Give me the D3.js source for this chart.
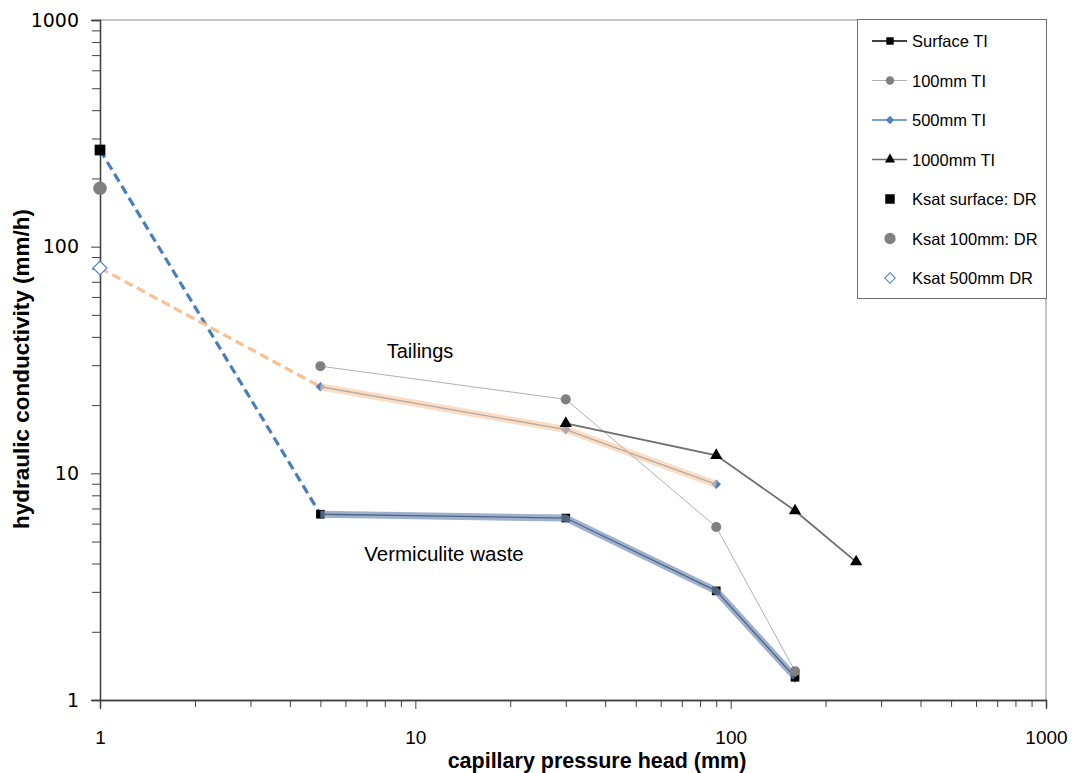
<!DOCTYPE html>
<html>
<head>
<meta charset="utf-8">
<script src="https://cdn.jsdelivr.net/npm/d3@7"></script>
<style>
  html, body { margin: 0; padding: 0; background: #fff; }
  svg { display: block; font-family: "Liberation Sans", Arial, sans-serif; }
</style>
</head>
<body>
<svg id="chart" width="1076" height="773"></svg>
<script>
// Capillary pressure head (mm) at which conductivity was measured
const headTI = [5, 30, 90, 160];
const head1000 = [30, 90, 160, 250];

// Tension infiltrometer results, hydraulic conductivity (mm/h)
const surfaceTI = [6.6, 6.35, 3.03, 1.26];
const ti100mm = [29.7, 21.2, 5.8, 1.34];
const ti500mm = [24.1, 15.6, 8.94];
const ti1000mm = [16.6, 12.0, 6.84, 4.07];
const ti500mmVermiculite = [1.25];   // single 500 mm reading on vermiculite at 160 mm
const head500Vermiculite = [160];

// Saturated conductivity from double ring, plotted at 1 mm head
const ksatHead = 1;
const ksatSurfaceDR = 267;
const ksat100mmDR = 181;
const ksat500mmDR = 80.5;

// Axis ticks
const majorTicks = [1, 10, 100, 1000];
const minorTicks = d3.range(0, 3).flatMap(e => d3.range(2, 10).map(m => m * Math.pow(10, e)));

const legendLabels = ["Surface TI", "100mm TI", "500mm TI", "1000mm TI",
                      "Ksat surface: DR", "Ksat 100mm: DR", "Ksat 500mm DR"];
const materialLabels = ["Tailings", "Vermiculite waste"];

const svg = d3.select("#chart");
const L = 100, R = 1046, T = 20, B = 700;

const x = d3.scaleLog().domain([1, 1000]).range([L, R]);
const y = d3.scaleLog().domain([1, 1000]).range([B, T]);

const pts = (xs, ys) => ys.map((v, i) => [xs[i], v]);
const line = d3.line().x(d => x(d[0])).y(d => y(d[1]));

// Plot frame (top and right edges)
svg.append("path")
  .attr("d", `M${L},${T}H${R}V${B}`)
  .attr("fill", "none").attr("stroke", "#8c8c8c").attr("stroke-width", 1);

// Axes
const axisColor = "#404040";
const xMinor = svg.append("g").attr("transform", `translate(0,${B})`)
  .call(d3.axisBottom(x).tickValues(minorTicks).tickSize(7).tickFormat(""));
const xMajor = svg.append("g").attr("transform", `translate(0,${B})`)
  .call(d3.axisBottom(x).tickValues(majorTicks).tickSize(9).tickPadding(22).tickFormat(d3.format("d")));
const yMinor = svg.append("g").attr("transform", `translate(${L},0)`)
  .call(d3.axisLeft(y).tickValues(minorTicks).tickSize(8).tickFormat(""));
const yMajor = svg.append("g").attr("transform", `translate(${L},0)`)
  .call(d3.axisLeft(y).tickValues(majorTicks).tickSize(9).tickPadding(12).tickFormat(d3.format("d")));

[xMinor, xMajor, yMinor, yMajor].forEach(g => {
  g.selectAll("line").attr("stroke", axisColor).attr("stroke-width", 1);
  g.select(".domain").attr("stroke", axisColor).attr("stroke-width", 1.3);
});
xMajor.selectAll("text")
  .attr("font-family", "'Liberation Sans', Arial, sans-serif")
  .attr("font-size", 19).attr("fill", "#000");
yMajor.selectAll("text")
  .attr("font-family", "'DejaVu Sans', Verdana, sans-serif")
  .attr("font-size", 19).attr("fill", "#000");

// Axis titles
svg.append("text")
  .attr("x", 597).attr("y", 768)
  .attr("text-anchor", "middle")
  .attr("font-size", 21.5).attr("font-weight", "bold")
  .text("capillary pressure head (mm)");
svg.append("text")
  .attr("transform", `translate(29,369) rotate(-90)`)
  .attr("text-anchor", "middle")
  .attr("font-size", 22.5).attr("font-weight", "bold")
  .text("hydraulic conductivity (mm/h)");

const plot = svg.append("g");

// Dashed links from the double-ring Ksat to the first tension reading
plot.append("path")
  .attr("d", line([[ksatHead, ksatSurfaceDR], [headTI[0], surfaceTI[0]]]))
  .attr("fill", "none").attr("stroke", "#4a7ebb").attr("stroke-width", 3.2)
  .attr("stroke-dasharray", "9,5");
plot.append("path")
  .attr("d", line([[ksatHead, ksat500mmDR], [headTI[0], ti500mm[0]]]))
  .attr("fill", "none").attr("stroke", "#fac090").attr("stroke-width", 3.2)
  .attr("stroke-dasharray", "9,5");

// Marker helpers: diamonds are squares turned by 45 degrees
function marker(shape, size) {
  if (shape === "diamond") return { d: d3.symbol().type(d3.symbolSquare).size(size)(), rot: 45 };
  const t = { square: d3.symbolSquare, circle: d3.symbolCircle, triangle: d3.symbolTriangle }[shape];
  return { d: d3.symbol().type(t).size(size)(), rot: 0 };
}

function series(xs, ys, opts) {
  const g = plot.append("g");
  if (opts.stroke) {
    g.append("path").attr("d", line(pts(xs, ys)))
      .attr("fill", "none").attr("stroke", opts.stroke).attr("stroke-width", opts.width);
  }
  const m = marker(opts.shape, opts.size);
  g.selectAll("path.m").data(pts(xs, ys)).join("path").attr("class", "m")
    .attr("transform", d => `translate(${x(d[0])},${y(d[1])}) rotate(${m.rot})`)
    .attr("d", m.d)
    .attr("fill", opts.fill).attr("stroke", opts.markStroke || "none");
  return g;
}

// Tension infiltrometer series
series(head500Vermiculite, ti500mmVermiculite, { shape: "diamond", size: 45, fill: "#4f81bd" });
series(headTI, surfaceTI, { stroke: "#000", width: 1.3, shape: "square", size: 75, fill: "#000" });
series(headTI.slice(0, 3), ti500mm, { stroke: "#4f81bd", width: 1.3, shape: "diamond", size: 45, fill: "#4f81bd" });

// Material trend bands
plot.append("path").attr("d", line(pts(headTI, surfaceTI)))
  .attr("fill", "none").attr("stroke", "#7390bb").attr("stroke-width", 7)
  .attr("stroke-linejoin", "round").attr("opacity", 0.7);
plot.append("path").attr("d", line(pts(headTI.slice(0, 3), ti500mm)))
  .attr("fill", "none").attr("stroke", "#f9c69b").attr("stroke-width", 7)
  .attr("stroke-linejoin", "round").attr("opacity", 0.6);

series(headTI, ti100mm, { stroke: "#b0b0b0", width: 1, shape: "circle", size: 80, fill: "#808080" });
series(head1000, ti1000mm, { stroke: "#6e6e6e", width: 1.8, shape: "triangle", size: 65, fill: "#000" });

// Double-ring Ksat points
const mSq = marker("square", 115), mCi = marker("circle", 145), mDi = marker("diamond", 95);
plot.append("path").attr("transform", `translate(${x(ksatHead)},${y(ksatSurfaceDR)})`)
  .attr("d", mSq.d).attr("fill", "#000");
plot.append("path").attr("transform", `translate(${x(ksatHead)},${y(ksat100mmDR)})`)
  .attr("d", mCi.d).attr("fill", "#808080");
plot.append("path").attr("transform", `translate(${x(ksatHead)},${y(ksat500mmDR)}) rotate(45)`)
  .attr("d", mDi.d).attr("fill", "#fff")
  .attr("stroke", "#4f81bd").attr("stroke-width", 1.2);

// Material labels
svg.append("text").attr("x", 420).attr("y", 358).attr("text-anchor", "middle")
  .attr("font-size", 20).text(materialLabels[0]);
svg.append("text").attr("x", 444).attr("y", 561).attr("text-anchor", "middle")
  .attr("font-size", 20.5).text(materialLabels[1]);

// Legend
const lg = svg.append("g");
lg.append("rect").attr("x", 857.5).attr("y", 19.5).attr("width", 189).attr("height", 279)
  .attr("fill", "#fff").attr("stroke", "#6e6e6e").attr("stroke-width", 1);
const legendItems = [
  { line: "#000", w: 1.3, shape: "square", size: 55, fill: "#000" },
  { line: "#b0b0b0", w: 1, shape: "circle", size: 55, fill: "#808080" },
  { line: "#4f81bd", w: 1.5, shape: "diamond", size: 35, fill: "#4f81bd" },
  { line: "#6e6e6e", w: 1.5, shape: "triangle", size: 45, fill: "#000" },
  { line: null, shape: "square", size: 90, fill: "#000" },
  { line: null, shape: "circle", size: 100, fill: "#808080" },
  { line: null, shape: "diamond", size: 55, fill: "#fff", stroke: "#4f81bd" }
];
legendItems.forEach((it, i) => {
  const cy = 41 + i * 39.5;
  const g = lg.append("g").attr("transform", `translate(0,${cy})`);
  if (it.line) {
    g.append("line").attr("x1", 872).attr("x2", 907).attr("y1", 0).attr("y2", 0)
      .attr("stroke", it.line).attr("stroke-width", it.w);
  }
  const m = marker(it.shape, it.size);
  g.append("path").attr("transform", `translate(890,0) rotate(${m.rot})`).attr("d", m.d)
    .attr("fill", it.fill).attr("stroke", it.stroke || "none");
  g.append("text").attr("x", 912).attr("y", 6).attr("font-size", 16.5)
    .text(legendLabels[i]);
});
</script>
</body>
</html>
